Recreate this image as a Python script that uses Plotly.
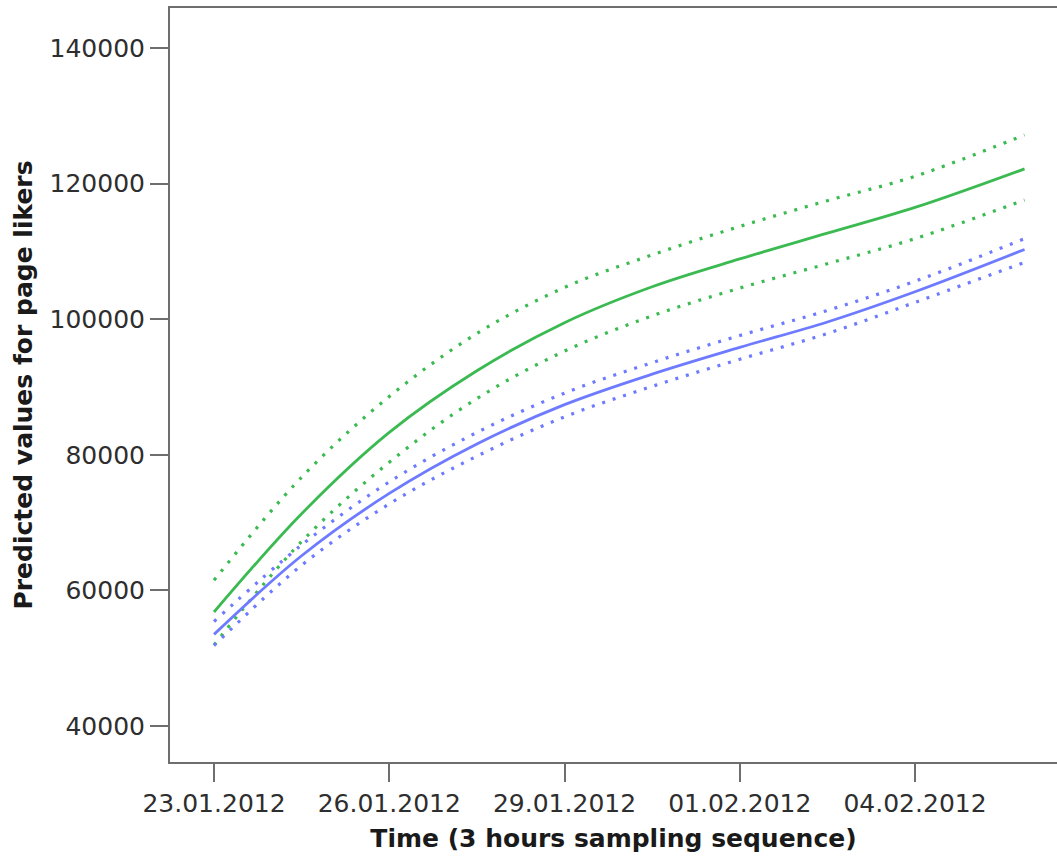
import plotly.graph_objects as go

# Sample times (3-hour grid) at which the fitted curves are evaluated
times = [
    "2012-01-23 00:00", "2012-01-24 12:00", "2012-01-26 00:00", "2012-01-27 12:00",
    "2012-01-29 00:00", "2012-01-30 12:00", "2012-02-01 00:00", "2012-02-02 12:00",
    "2012-02-04 00:00", "2012-02-05 21:00",
]

# Green model: fitted values with upper/lower confidence bounds
green_fit = [56800, 71300, 83300, 92400, 99500, 104800, 108900, 112700, 116500, 122200]
green_upper = [61500, 76700, 88600, 97900, 104700, 109500, 113700, 117500, 121100, 127200]
green_lower = [51950, 67200, 78900, 88300, 95300, 100500, 104600, 108200, 111900, 117600]

# Blue model: fitted values with upper/lower confidence bounds
blue_fit = [53500, 65100, 74300, 81600, 87400, 91900, 95850, 99600, 104060, 110300]
blue_upper = [55400, 66700, 76000, 83300, 89100, 93600, 97600, 101300, 105600, 111900]
blue_lower = [51850, 63700, 72750, 79800, 85600, 90100, 94100, 97900, 102500, 108400]

x_ticks = ["2012-01-23", "2012-01-26", "2012-01-29", "2012-02-01", "2012-02-04"]
y_ticks = [40000, 60000, 80000, 100000, 120000, 140000]

GREEN = "#3cba52"
BLUE = "#6e7bff"
AXIS = "#6e6e6e"

fig = go.Figure()


def add_line(y, color, dotted):
    fig.add_trace(go.Scatter(
        x=times, y=y, mode="lines",
        line=dict(color=color, width=3.2 if dotted else 2.8,
                  dash="3px,8px" if dotted else "solid", shape="spline", smoothing=1.0),
        hoverinfo="skip", showlegend=False,
    ))


add_line(green_upper, GREEN, True)
add_line(green_lower, GREEN, True)
add_line(green_fit, GREEN, False)
add_line(blue_upper, BLUE, True)
add_line(blue_lower, BLUE, True)
add_line(blue_fit, BLUE, False)

tick_font = dict(family="DejaVu Sans", size=25, color="#2e2e2e")
title_font = dict(family="DejaVu Sans", size=25, color="#1a1a1a")

fig.update_layout(
    width=1057, height=856,
    margin=dict(l=170, r=0, t=8, b=94),
    paper_bgcolor="white", plot_bgcolor="white",
    xaxis=dict(
        type="date",
        range=["2012-01-22 05:55", "2012-02-06 10:20"],
        tickvals=x_ticks, tickformat="%d.%m.%Y",
        ticks="outside", ticklen=18, tickwidth=2, tickcolor=AXIS,
        showline=True, linecolor=AXIS, linewidth=2, mirror=True,
        showgrid=False, zeroline=False,
        tickfont=tick_font,
        title=dict(text="<b>Time (3 hours sampling sequence)</b>", font=title_font, standoff=12),
    ),
    yaxis=dict(
        range=[34670, 145930],
        tickvals=y_ticks, tickformat="d",
        ticks="outside", ticklen=18, tickwidth=2, tickcolor=AXIS,
        showline=True, linecolor=AXIS, linewidth=2,
        showgrid=False, zeroline=False,
        tickfont=tick_font,
        title=dict(text="<b>Predicted values for page likers</b>", font=title_font, standoff=10),
    ),
)

fig.write_html("out.html")
